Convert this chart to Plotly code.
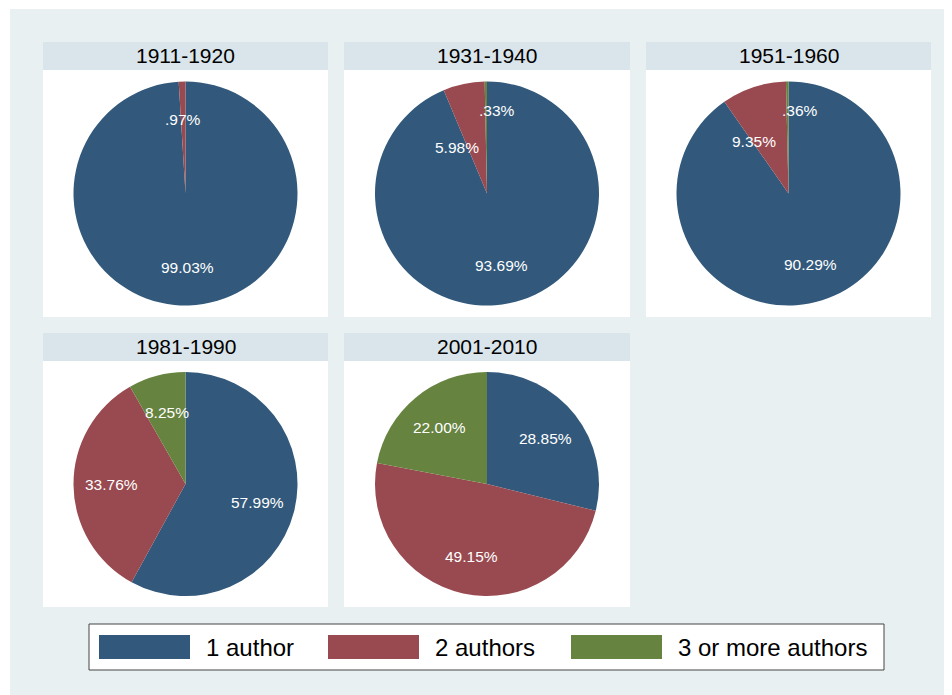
import math
import plotly.graph_objects as go

# ---- data ----
periods = ["1911-1920", "1931-1940", "1951-1960", "1981-1990", "2001-2010"]
series_names = ["1 author", "2 authors", "3 or more authors"]
one_author = [99.03, 93.69, 90.29, 57.99, 28.85]
two_authors = [0.97, 5.98, 9.35, 33.76, 49.15]
three_plus = [0.0, 0.33, 0.36, 8.25, 22.00]

# ---- style / layout ----
SCREEN_W, SCREEN_H = 952, 695
OFF = 8  # page body margin
W, H = SCREEN_W - OFF, SCREEN_H - OFF
colors = ["#32597b", "#994a50", "#66833f"]
bg = "#e8f0f2"
title_bg = "#d9e5ea"
col_x = [(43, 328), (344, 630), (646, 931)]
row_y = [(42, 317), (333, 607)]
title_h = 28
radius = 112
label_r = 0.66
font_family = "Liberation Sans, Arial, Helvetica, sans-serif"
# small nudges (px) Stata applies to crowded labels: (panel index, slice index) -> (dx, dy)
label_nudges = {(1, 1): (-14.7, 26.3), (1, 2): (10.8, -9.1),
                (2, 1): (-11.5, 18.5), (2, 2): (12.0, -9.1)}


def px(x):
    return (x - OFF) / W


def py(y):
    return 1 - (y - OFF) / H


def fmt(v):
    s = f"{v:.2f}%"
    if s.startswith("0."):
        s = s[1:]
    return s


fig = go.Figure()
shapes = []
annotations = []

# white strips at top/left edge
shapes.append(dict(type="rect", xref="paper", yref="paper", x0=0, x1=1, y0=py(9), y1=1,
                   fillcolor="white", line_width=0, layer="below"))
shapes.append(dict(type="rect", xref="paper", yref="paper", x0=0, x1=px(10), y0=0, y1=1,
                   fillcolor="white", line_width=0, layer="below"))

for i, period in enumerate(periods):
    r, c = divmod(i, 3)
    x0, x1 = col_x[c]
    y0, y1 = row_y[r]
    # title bar and plot area
    shapes.append(dict(type="rect", xref="paper", yref="paper", x0=px(x0), x1=px(x1),
                       y0=py(y0 + title_h), y1=py(y0), fillcolor=title_bg, line_width=0, layer="below"))
    shapes.append(dict(type="rect", xref="paper", yref="paper", x0=px(x0), x1=px(x1),
                       y0=py(y1), y1=py(y0 + title_h), fillcolor="white", line_width=0, layer="below"))
    annotations.append(dict(text=period, xref="paper", yref="paper", x=px((x0 + x1) / 2),
                            y=py(y0 + title_h / 2), showarrow=False, xanchor="center", yanchor="middle",
                            font=dict(size=21, color="black", family=font_family)))
    cx = (x0 + x1) / 2
    cy = (y0 + title_h + y1) / 2
    vals = [one_author[i], two_authors[i], three_plus[i]]
    fig.add_trace(go.Pie(
        values=vals, labels=series_names, sort=False, direction="clockwise", rotation=0,
        marker=dict(colors=colors, line=dict(width=0)), textinfo="none", hoverinfo="label+value",
        showlegend=False,
        domain=dict(x=[px(cx - radius), px(cx + radius)], y=[py(cy + radius), py(cy - radius)]),
    ))
    total = sum(vals)
    cum = 0.0
    for j, v in enumerate(vals):
        if v > 0:
            mid = (cum + v / 2) / total * 2 * math.pi
            lx = cx + math.sin(mid) * radius * label_r
            ly = cy - math.cos(mid) * radius * label_r
            dx, dy = label_nudges.get((i, j), (0, 0))
            annotations.append(dict(text=fmt(v), xref="paper", yref="paper", x=px(lx + dx), y=py(ly + dy),
                                    showarrow=False, xanchor="center", yanchor="middle",
                                    font=dict(size=15.5, color="white", family=font_family)))
        cum += v

# legend
leg = dict(x0=89, x1=884, y0=624, y1=670)
shapes.append(dict(type="rect", xref="paper", yref="paper", x0=px(leg["x0"]), x1=px(leg["x1"]),
                   y0=py(leg["y1"]), y1=py(leg["y0"]), fillcolor="white",
                   line=dict(color="#444444", width=1)))
sw_x = [99, 328, 571]
sw_w = 91
for k, name in enumerate(series_names):
    shapes.append(dict(type="rect", xref="paper", yref="paper", x0=px(sw_x[k]), x1=px(sw_x[k] + sw_w),
                       y0=py(659), y1=py(635), fillcolor=colors[k], line_width=0))
    annotations.append(dict(text=name, xref="paper", yref="paper", x=px(sw_x[k] + sw_w + 14), y=py(647.5),
                            showarrow=False, xanchor="left", yanchor="middle",
                            font=dict(size=24, color="black", family=font_family)))

fig.update_layout(
    width=W, height=H, margin=dict(l=0, r=0, t=0, b=0),
    paper_bgcolor=bg, plot_bgcolor=bg,
    shapes=shapes, annotations=annotations,
)
fig.write_html("out.html")
